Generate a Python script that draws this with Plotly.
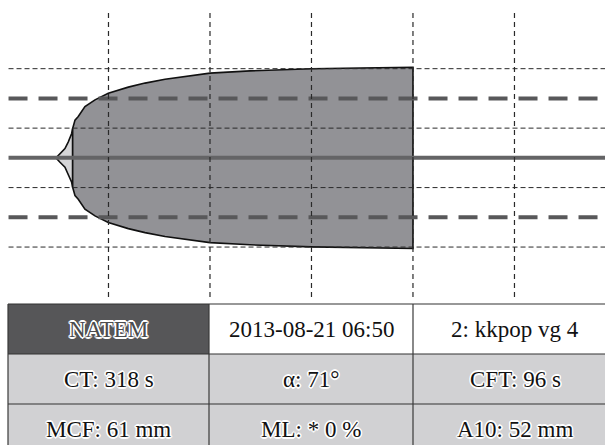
import plotly.graph_objects as go

# --- clot firmness trace (time in min, amplitude in mm) ---
cft_time = [4.83, 5.22, 5.71, 6.04, 6.37, 6.47]
cft_amp = [0.0, 3.0, 6.3, 10.8, 16.4, 19.8]

clot_time = [6.47, 6.70, 7.02, 7.68, 8.67, 9.98, 11.95, 13.60, 15.57,
             20.0, 23.94, 30.0, 34.8, 40.0]
clot_amp = [19.8, 25.4, 27.8, 34.5, 39.0, 43.5, 47.6, 50.3, 52.9,
            57.0, 58.5, 59.9, 60.5, 61.0]

# --- grid ---
time_grid = [10, 20, 30, 40, 50]
amp_grid_thin = [10, -10, 30, -30]
amp_grid_thick = [20, -20]

# --- result table ---
table_rows = [
    ["NATEM", "2013-08-21 06:50", "2: kkpop vg 4"],
    ["CT: 318 s", "α: 71°", "CFT: 96 s"],
    ["MCF: 61 mm", "ML: * 0 %", "A10: 52 mm"],
]
row_fill = [["#565658", "#ffffff", "#ffffff"],
            ["#d1d1d3", "#d1d1d3", "#d1d1d3"],
            ["#d1d1d3", "#d1d1d3", "#d1d1d3"]]

SERIF = "'Liberation Serif', 'Times New Roman', Times, serif"

W, H = 605, 445
M_L, M_R, M_T, M_B = 7, 0, 11, 148
X_MAX = 58.92
Y_LO, Y_HI = -46.8, 49.4


def envelope(t, a):
    """Closed outline: upper half forward, lower half back."""
    xs = list(t) + list(reversed(t)) + [t[0]]
    ys = [v / 2 for v in a] + [-v / 2 for v in reversed(a)] + [a[0] / 2]
    return xs, ys


fig = go.Figure()

x1, y1 = envelope(cft_time, cft_amp)
fig.add_trace(go.Scatter(x=x1, y=y1, mode="lines", fill="toself",
                         fillcolor="#d5d5d7",
                         line=dict(color="#111111", width=1.6),
                         hoverinfo="skip", showlegend=False))

x2, y2 = envelope(clot_time, clot_amp)
fig.add_trace(go.Scatter(x=x2, y=y2, mode="lines", fill="toself",
                         fillcolor="#929296",
                         line=dict(color="#111111", width=1.6),
                         hoverinfo="skip", showlegend=False))

shapes = []
for yv in amp_grid_thin:
    shapes.append(dict(type="line", xref="x", yref="y", x0=0.15, x1=X_MAX,
                       y0=yv, y1=yv,
                       line=dict(color="#2a2a2a", width=1, dash="5px,3px")))
for yv in amp_grid_thick:
    shapes.append(dict(type="line", xref="x", yref="y", x0=0.15, x1=X_MAX,
                       y0=yv, y1=yv,
                       line=dict(color="#58585a", width=4, dash="19px,11px")))
shapes.append(dict(type="line", xref="x", yref="y", x0=0.15, x1=X_MAX,
                   y0=0, y1=0, line=dict(color="#646466", width=4)))
for xv in time_grid:
    shapes.append(dict(type="line", xref="x", yref="y domain", x0=xv, x1=xv,
                       y0=0, y1=1,
                       line=dict(color="#2a2a2a", width=1.2, dash="5px,4px")))

PLOT_W = W - M_L - M_R
PLOT_H = H - M_T - M_B


def px(x):
    """Page pixel column -> paper x (paper spans the plot area)."""
    return (x - M_L) / PLOT_W


def py(y):
    """Page pixel row -> paper y."""
    return (H - M_B - y) / PLOT_H


col_edges = [8, 209, 413, 617]
row_edges = [304, 354, 404, 454]

for r in range(3):
    for c in range(3):
        shapes.append(dict(type="rect", xref="paper", yref="paper",
                           x0=px(col_edges[c]), x1=px(col_edges[c + 1]),
                           y0=py(row_edges[r]), y1=py(row_edges[r + 1]),
                           fillcolor=row_fill[r][c], line=dict(width=0),
                           layer="below"))
for yb in row_edges[:3]:
    shapes.append(dict(type="line", xref="paper", yref="paper",
                       x0=px(8), x1=px(617), y0=py(yb), y1=py(yb),
                       line=dict(color="#333333", width=1.2)))
for xb in col_edges[:3]:
    shapes.append(dict(type="line", xref="paper", yref="paper",
                       x0=px(xb), x1=px(xb), y0=py(304), y1=py(454),
                       line=dict(color="#3a3a3a", width=1.2)))

halo = ", ".join(f"{dx}px {dy}px 0.6px #ffffff" for dx, dy in
                 [(1.6, 0), (-1.6, 0), (0, 1.6), (0, -1.6),
                  (1.2, 1.2), (-1.2, -1.2), (1.2, -1.2), (-1.2, 1.2)])

annotations = []
for r in range(3):
    for c in range(3):
        xc = (col_edges[c] + col_edges[c + 1]) / 2
        yc = (row_edges[r] + row_edges[r + 1]) / 2
        white_cell = row_fill[r][c] == "#ffffff"
        if r == 0 and c == 0:
            font = dict(family=SERIF, size=23, color="#4c4c4e", shadow=halo)
        elif white_cell:
            font = dict(family=SERIF, size=23, color="#111111")
        else:
            font = dict(family=SERIF, size=23, color="#111111", shadow=halo)
        annotations.append(dict(text=table_rows[r][c], xref="paper",
                                yref="paper", x=px(xc), y=py(yc),
                                xanchor="center", yanchor="middle",
                                showarrow=False, font=font))

fig.update_layout(
    width=W, height=H,
    margin=dict(l=M_L, r=M_R, t=M_T, b=M_B, pad=0),
    paper_bgcolor="#ffffff", plot_bgcolor="rgba(0,0,0,0)",
    font=dict(family=SERIF),
    xaxis=dict(range=[0, X_MAX], visible=False, fixedrange=True),
    yaxis=dict(range=[Y_LO, Y_HI], visible=False, fixedrange=True),
    shapes=shapes, annotations=annotations, showlegend=False,
)

fig.write_html("out.html")
